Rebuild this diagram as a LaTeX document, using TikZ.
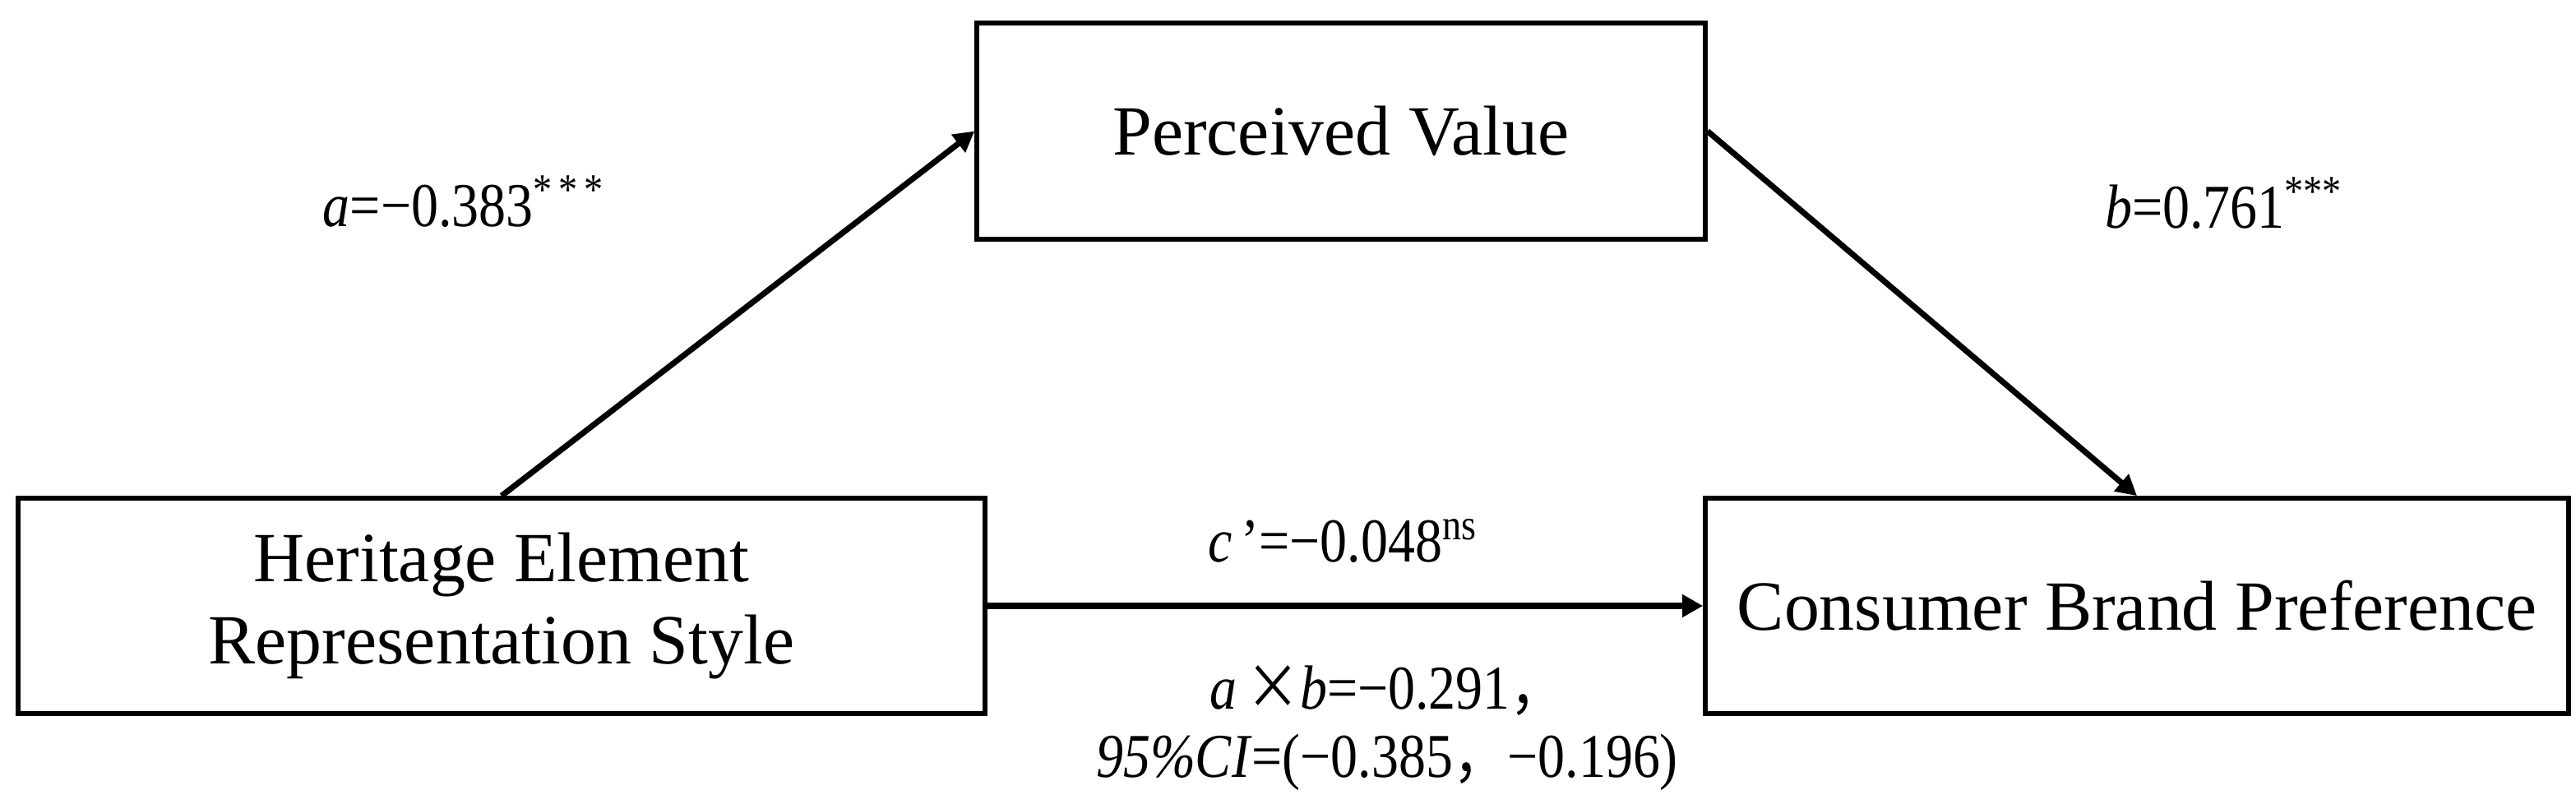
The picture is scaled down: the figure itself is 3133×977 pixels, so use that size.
\documentclass[tikz,border=0pt]{standalone}
\usepackage{fontspec}
\setmainfont{Liberation Serif}
\newfontfamily\cjkfont{Noto Sans CJK SC}
\usetikzlibrary{arrows.meta}
\newcommand{\narrowtxt}[1]{\scalebox{0.87}[1]{#1}}
\begin{document}
\begin{tikzpicture}[x=0.24pt,y=-0.24pt,
  box/.style={draw, line width=1.35pt, inner sep=0pt, align=center,
    font=\fontsize{20.6pt}{24.2pt}\selectfont},
  lbl/.style={anchor=base, inner sep=0pt, font=\fontsize{18.2pt}{22pt}\selectfont},
  conn/.style={line width=1.7pt, -{Triangle[length=6pt,width=6.3pt]}}]
\useasboundingbox (0,0) rectangle (3133,977);
\node[box, minimum width=212.6pt, minimum height=63.1pt] (PV) at (1631,159.5) {Perceived Value};
\node[box, minimum width=282.2pt, minimum height=62.9pt] (HERS) at (610,737) {Heritage Element\\Representation Style};
\node[box, minimum width=252pt, minimum height=62.9pt] (CBP) at (2599,737) {Consumer Brand Preference};
\draw[conn] (HERS.north) -- (PV.west);
\draw[conn] (PV.east) -- (CBP.north);
\draw[conn] (HERS.east) -- (CBP.west);
\node[lbl] (la) at (564,275) {\narrowtxt{\textit{a}=−0.383\textsuperscript{*\,*\,*}}};
\node[lbl] (lb) at (2705,277) {\narrowtxt{\textit{b}=0.761\textsuperscript{***}}};
\node[lbl] (lc) at (1633,683) {\narrowtxt{\textit{c}\,’=−0.048\textsuperscript{ns}}};
\node[lbl] (lab) at (1687,862) {\narrowtxt{\textit{a}\,{\cjkfont ×}\textit{b}=−0.291{\cjkfont ，}}};
\node[lbl] (lci) at (1687,945) {\narrowtxt{\textit{95\%CI}=(−0.385{\cjkfont ，}−0.196)}};
\end{tikzpicture}
\end{document}
